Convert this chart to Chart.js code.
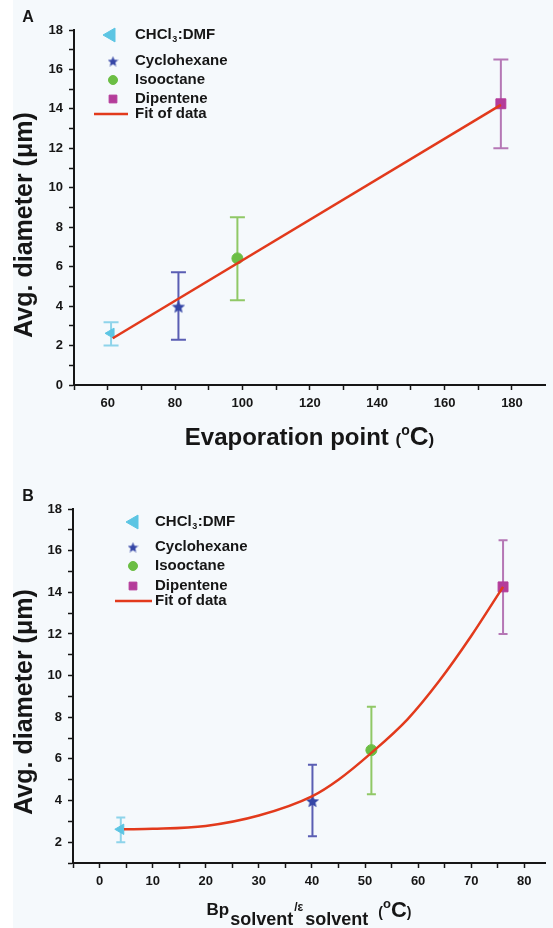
<!DOCTYPE html>
<html>
<head>
<meta charset="utf-8">
<script src="https://cdn.jsdelivr.net/npm/chart.js@4"></script>
<style>
  html, body { margin:0; padding:0; }
  body { width:553px; height:928px; background:#F5F9FC; position:relative; overflow:hidden; }
  #strip { position:absolute; left:0; top:0; width:13px; height:928px; background:#ffffff; }
  .wrap { position:absolute; left:0; width:553px; height:464px; }
</style>
</head>
<body>
<div id="strip"></div>
<div class="wrap" style="top:0"><canvas id="cA" width="553" height="464"></canvas></div>
<div class="wrap" style="top:464px"><canvas id="cB" width="553" height="464"></canvas></div>
<script>
// ---------------- DATA ----------------
const categories = ['CHCl3:DMF', 'Cyclohexane', 'Isooctane', 'Dipentene'];
const evapPoint = [61, 81, 98.5, 176.7];          // panel A x (°C)
const bpRatio = [4.0, 40.1, 51.2, 76.0];          // panel B x (°C)
const meanDiam = [2.62, 3.98, 6.42, 14.26];       // µm
const errLow = [2.0, 2.29, 4.3, 12.0];
const errHigh = [3.18, 5.72, 8.5, 16.5];

const fitAX = [61.5, 176.7];
const fitAY = [2.37, 14.2];
const fitBX = [4.6, 10, 20, 30, 40, 45, 51.2, 58, 64, 70, 76];
const fitBY = [2.62, 2.64, 2.78, 3.28, 4.2, 5.0, 6.29, 7.9, 9.75, 11.9, 14.26];

const xMajorA = [60, 80, 100, 120, 140, 160, 180];
const yMajorA = [0, 2, 4, 6, 8, 10, 12, 14, 16, 18];
const xMajorB = [0, 10, 20, 30, 40, 50, 60, 70, 80];
const yMajorB = [2, 4, 6, 8, 10, 12, 14, 16, 18];

const yTitle = 'Avg. diameter (\u03BCm)';

// ---------------- STYLES ----------------
const FONT = '"Liberation Sans", Arial, sans-serif';
const TXT = '#161616';
const markerColors = ['#5CC5E3', '#3546A6', '#6BBE44', '#B43C9A'];
const errColors = ['#8ED4EA', '#5A5EB3', '#90C866', '#B577B5'];
const fitColor = '#E23A1C';

function makeStar(size, color) {
  const c = document.createElement('canvas');
  c.width = size; c.height = size;
  const g = c.getContext('2d');
  const R = size / 2, r = R * 0.45, cx = size / 2, cy = size / 2 + 0.7;
  g.beginPath();
  for (let i = 0; i < 10; i++) {
    const rad = (i % 2 === 0) ? R : r;
    const a = -Math.PI / 2 + i * Math.PI / 5;
    const px = cx + rad * Math.cos(a), py = cy + rad * Math.sin(a);
    if (i === 0) g.moveTo(px, py); else g.lineTo(px, py);
  }
  g.closePath();
  g.fillStyle = color;
  g.fill();
  return c;
}

const plotStar = makeStar(14, markerColors[1]);
const legendStar = makeStar(11, markerColors[1]);

function plotStyles() {
  return [
    { pointStyle: 'triangle', radius: 6, rotation: -90 },
    { pointStyle: plotStar, radius: 6, rotation: 0 },
    { pointStyle: 'circle', radius: 5.5, rotation: 0 },
    { pointStyle: 'rect', radius: 7, rotation: 0 }
  ];
}
const legendStyles = [
  { pointStyle: 'triangle', radius: 8, rotation: -90 },
  { pointStyle: legendStar, radius: 5, rotation: 0 },
  { pointStyle: 'circle', radius: 4.5, rotation: 0 },
  { pointStyle: 'rect', radius: 5.5, rotation: 0 }
];

function drawSegments(ctx, segs, cx, baseY) {
  let total = 0;
  segs.forEach(s => { ctx.font = s.font; s.w = ctx.measureText(s.t).width; total += s.w + (s.gap || 0); });
  let x = cx - total / 2;
  ctx.textBaseline = 'alphabetic';
  ctx.textAlign = 'left';
  segs.forEach(s => {
    ctx.font = s.font;
    ctx.fillText(s.t, x, baseY + (s.dy || 0));
    x += s.w + (s.gap || 0);
  });
}

function makePlugins(cfg) {
  const errPlugin = {
    id: 'errbars' + cfg.id,
    beforeDatasetsDraw(chart) {
      const { ctx, scales: { x, y } } = chart;
      cfg.xs.forEach((xv, i) => {
        const px = x.getPixelForValue(xv);
        const top = y.getPixelForValue(errHigh[i]);
        const bot = y.getPixelForValue(errLow[i]);
        const h = cfg.cap / 2;
        ctx.save();
        ctx.strokeStyle = errColors[i];
        ctx.lineWidth = 2;
        ctx.beginPath();
        ctx.moveTo(px, top); ctx.lineTo(px, bot);
        ctx.moveTo(px - h, top); ctx.lineTo(px + h, top);
        ctx.moveTo(px - h, bot); ctx.lineTo(px + h, bot);
        ctx.stroke();
        ctx.restore();
      });
    }
  };
  const textPlugin = {
    id: 'texts' + cfg.id,
    afterDraw(chart) {
      const ctx = chart.ctx;
      const area = chart.chartArea;
      ctx.save();
      ctx.fillStyle = TXT;
      // panel letter
      ctx.font = 'bold 16px ' + FONT;
      ctx.textAlign = 'center';
      ctx.textBaseline = 'middle';
      ctx.fillText(cfg.letter, 28, cfg.letterY);
      // y axis title
      ctx.save();
      ctx.translate(25, cfg.yTitleY);
      ctx.rotate(-Math.PI / 2);
      ctx.font = 'bold 25px ' + FONT;
      ctx.textAlign = 'center';
      ctx.textBaseline = 'middle';
      ctx.fillText(yTitle, 0, 0);
      ctx.restore();
      // legend
      const L = cfg.legend;
      categories.forEach((name, i) => {
        const st = legendStyles[i];
        const mx = L.mx + (i === 0 ? L.triDx : 0);
        ctx.save();
        ctx.fillStyle = markerColors[i];
        ctx.strokeStyle = markerColors[i];
        ctx.lineWidth = 1;
        Chart.helpers.drawPoint(ctx, { pointStyle: st.pointStyle, radius: st.radius, rotation: st.rotation, borderWidth: 1 }, mx, L.rows[i]);
        ctx.restore();
        ctx.fillStyle = TXT;
        ctx.textBaseline = 'middle';
        ctx.textAlign = 'left';
        const m = name.match(/^(\D+)(\d)(.*)$/);
        if (m) {
          ctx.font = 'bold 15px ' + FONT;
          ctx.fillText(m[1], L.tx, L.rows[i]);
          const w1 = ctx.measureText(m[1]).width;
          ctx.font = 'bold 9px ' + FONT;
          ctx.fillText(m[2], L.tx + w1 + 0.5, L.rows[i] + 5);
          const w2 = ctx.measureText(m[2]).width;
          ctx.font = 'bold 15px ' + FONT;
          ctx.fillText(m[3], L.tx + w1 + w2 + 1, L.rows[i]);
        } else {
          ctx.font = 'bold 15px ' + FONT;
          ctx.fillText(name, L.tx, L.rows[i]);
        }
      });
      ctx.strokeStyle = fitColor;
      ctx.lineWidth = 2.5;
      ctx.beginPath();
      ctx.moveTo(L.lx0, L.fitY); ctx.lineTo(L.lx1, L.fitY);
      ctx.stroke();
      ctx.fillStyle = TXT;
      ctx.font = 'bold 15px ' + FONT;
      ctx.textBaseline = 'middle';
      ctx.textAlign = 'left';
      ctx.fillText('Fit of data', L.tx, L.fitY);
      // x axis title
      drawSegments(ctx, cfg.xTitle, (area.left + area.right) / 2, cfg.xTitleBase);
      ctx.restore();
    }
  };
  return [errPlugin, textPlugin];
}

function buildChart(cfg) {
  const styles = plotStyles();
  const datasets = [{
    label: 'Fit of data',
    data: cfg.fitX.map((v, i) => ({ x: v, y: cfg.fitY[i] })),
    showLine: true,
    pointRadius: 0,
    borderColor: fitColor,
    borderWidth: 2.5,
    fill: false,
    tension: cfg.smooth ? 0.4 : 0,
    cubicInterpolationMode: cfg.smooth ? 'monotone' : 'default'
  }];
  categories.forEach((name, i) => {
    datasets.push({
      label: name,
      data: [{ x: cfg.xs[i], y: meanDiam[i] }],
      pointStyle: styles[i].pointStyle,
      pointRadius: styles[i].radius,
      pointRotation: styles[i].rotation,
      backgroundColor: markerColors[i],
      borderColor: markerColors[i],
      borderWidth: 1,
      showLine: false
    });
  });
  const tickFont = { family: FONT, size: 13, weight: 'bold' };
  return new Chart(document.getElementById(cfg.canvas), {
    type: 'scatter',
    data: { datasets },
    options: {
      responsive: false,
      animation: false,
      events: [],
      layout: { padding: { top: cfg.top, right: 0, bottom: 0, left: 0 } },
      plugins: { legend: { display: false }, tooltip: { enabled: false } },
      scales: {
        x: {
          type: 'linear',
          min: cfg.xmin, max: cfg.xmax,
          afterFit: s => { s.height = cfg.xh; },
          ticks: {
            stepSize: cfg.xstep, autoSkip: false, includeBounds: false, maxRotation: 0,
            padding: 6, color: TXT, font: tickFont,
            callback: v => cfg.xMajor.includes(v) ? String(v) : ''
          },
          grid: { drawOnChartArea: false, drawTicks: true, tickLength: 5, tickColor: TXT, tickWidth: 1.5 },
          border: { color: TXT, width: 2 }
        },
        y: {
          type: 'linear',
          min: cfg.ymin, max: cfg.ymax,
          afterFit: s => { s.width = cfg.yw; },
          ticks: {
            stepSize: 1, autoSkip: false, includeBounds: false,
            padding: 6, color: TXT, font: tickFont,
            callback: v => cfg.yMajor.includes(v) ? String(v) : ''
          },
          grid: { drawOnChartArea: false, drawTicks: true, tickLength: 5, tickColor: TXT, tickWidth: 1.5 },
          border: { color: TXT, width: 2 }
        }
      }
    },
    plugins: makePlugins(cfg)
  });
}

const B = 'bold ';
buildChart({
  id: 'A', canvas: 'cA', xs: evapPoint, cap: 15,
  fitX: fitAX, fitY: fitAY, smooth: false,
  xmin: 50, xmax: 189.8, xstep: 10, xMajor: xMajorA,
  ymin: 0, ymax: 18, yMajor: yMajorA,
  top: 30, xh: 79, yw: 74,
  letter: 'A', letterY: 18, yTitleY: 225,
  legend: { mx: 113, triDx: -2, tx: 135, rows: [35, 61, 80, 99], fitY: 114, lx0: 94, lx1: 128 },
  xTitle: [
    { t: 'Evaporation point ', font: B + '24px ' + FONT },
    { t: '(', font: B + '17px ' + FONT },
    { t: 'o', font: B + '14px ' + FONT, dy: -10 },
    { t: 'C', font: B + '26px ' + FONT },
    { t: ')', font: B + '17px ' + FONT }
  ],
  xTitleBase: 445
});

buildChart({
  id: 'B', canvas: 'cB', xs: bpRatio, cap: 9,
  fitX: fitBX, fitY: fitBY, smooth: true,
  xmin: -5, xmax: 83.9, xstep: 5, xMajor: xMajorB,
  ymin: 1, ymax: 18, yMajor: yMajorB,
  top: 45, xh: 65, yw: 73,
  letter: 'B', letterY: 33, yTitleY: 238,
  legend: { mx: 133, triDx: 1, tx: 155, rows: [58, 83, 102, 122], fitY: 137, lx0: 115, lx1: 152 },
  xTitle: [
    { t: 'Bp', font: B + '17px ' + FONT, gap: 1 },
    { t: 'solvent', font: B + '18px ' + FONT, dy: 10, gap: 1 },
    { t: '/\u03B5', font: B + '12px ' + FONT, dy: -4, gap: 2 },
    { t: 'solvent', font: B + '18px ' + FONT, dy: 10, gap: 10 },
    { t: '(', font: B + '14px ' + FONT, dy: 2 },
    { t: 'o', font: B + '13px ' + FONT, dy: -7 },
    { t: 'C', font: B + '22px ' + FONT, dy: 2 },
    { t: ')', font: B + '14px ' + FONT, dy: 2 }
  ],
  xTitleBase: 451
});
</script>
</body>
</html>
